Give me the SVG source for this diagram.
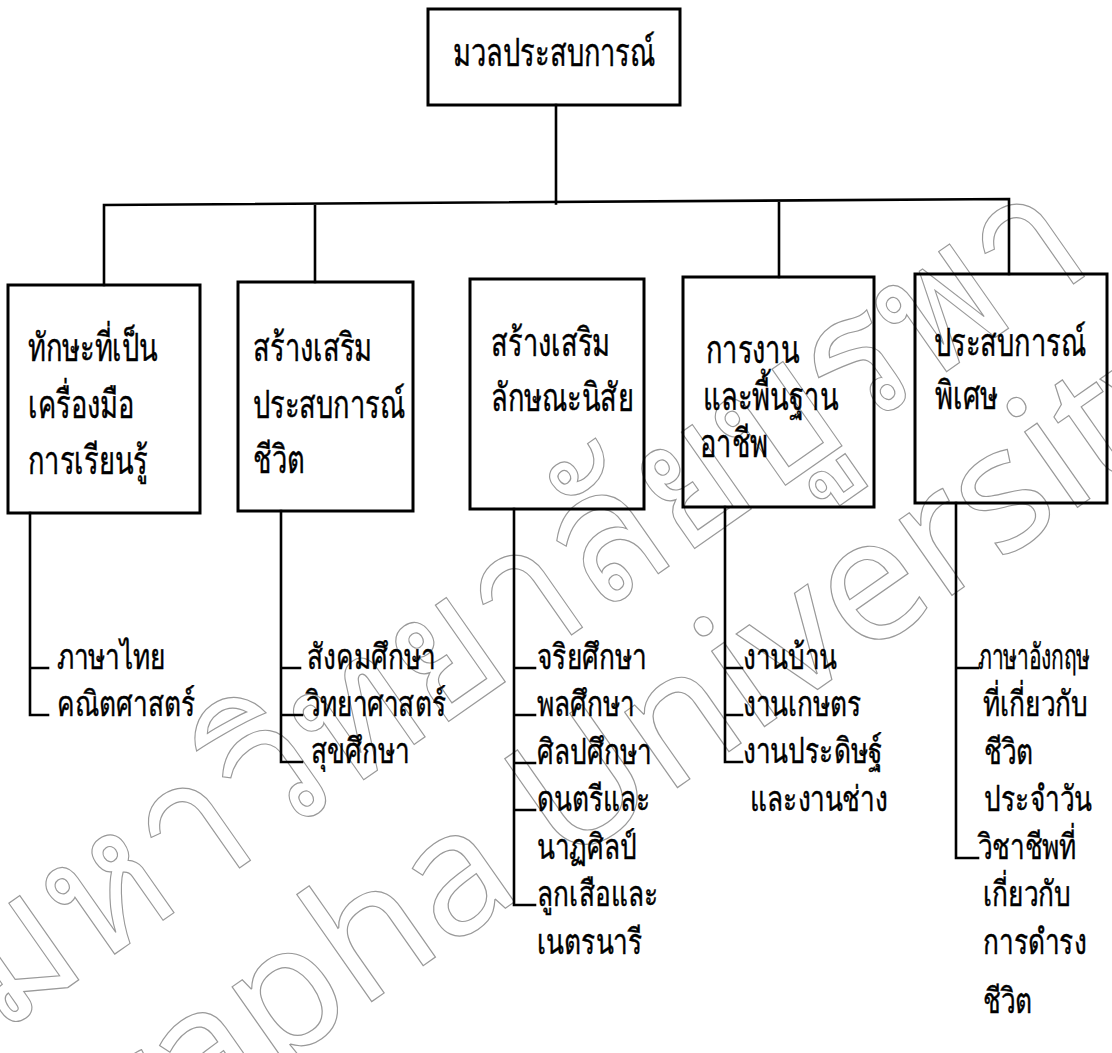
<svg xmlns="http://www.w3.org/2000/svg" width="1112" height="1053" viewBox="0 0 1112 1053">
<style>
.box{fill:none;stroke:#000;stroke-width:3}
.ln{fill:none;stroke:#000;stroke-width:2.6;stroke-linecap:square}
.t{font-family:"Noto Sans",sans-serif;font-size:39px;fill:#000;stroke:#000;stroke-width:0.4}
.s{font-family:"Noto Sans",sans-serif;font-size:35px;fill:#000;stroke:#000;stroke-width:0.4}
.wm{font-family:"Noto Sans",sans-serif;fill:none;stroke:#999;stroke-width:1.2}
</style>
<rect width="1112" height="1053" fill="#fff"/>
<g id="watermark">
<text class="wm" font-size="185" transform="translate(0,1035) rotate(-35)" textLength="1340" lengthAdjust="spacingAndGlyphs">มหาวิทยาลัยบูรพา</text>
<text class="wm" font-size="172" transform="translate(-40,1290) rotate(-35)">Burapha University</text>
</g>
<g id="connectors">
<path class="ln" d="M556 105V203.5M104 285V205L1009 199V274M315 204V282M779 202.5V277"/>
<path class="ln" d="M30 513V715H48M30 668H48"/>
<path class="ln" d="M281 511V762H302M281 668H300M281 715H302"/>
<path class="ln" d="M514 509V905H535M514 668H535M514 715H535M514 763H535M514 810H535"/>
<path class="ln" d="M725 507V762H742M725 668H742M725 715H742"/>
<path class="ln" d="M956 503V858H978M956 668H978"/>
</g>
<g id="root">
<rect class="box" x="428" y="9" width="252" height="96"/>
<text class="t" transform="translate(453,66) scale(0.7,1)">มวลประสบการณ์</text>
</g>
<g id="n1">
<rect class="box" x="8" y="285" width="192" height="228"/>
<text class="t" transform="translate(28,361) scale(0.7,1)">ทักษะที่เป็น</text>
<text class="t" transform="translate(28,418) scale(0.7,1)">เครื่องมือ</text>
<text class="t" transform="translate(28,474) scale(0.7,1)">การเรียนรู้</text>
</g>
<g id="n2">
<rect class="box" x="238" y="282" width="175" height="229"/>
<text class="t" transform="translate(253,361) scale(0.7,1)">สร้างเสริม</text>
<text class="t" transform="translate(253,418) scale(0.7,1)">ประสบการณ์</text>
<text class="t" transform="translate(253,473) scale(0.7,1)">ชีวิต</text>
</g>
<g id="n3">
<rect class="box" x="470" y="279" width="174" height="230"/>
<text class="t" transform="translate(491,356) scale(0.7,1)">สร้างเสริม</text>
<text class="t" transform="translate(491,411) scale(0.7,1)">ลักษณะนิสัย</text>
</g>
<g id="n4">
<rect class="box" x="683" y="277" width="191" height="230"/>
<text class="t" transform="translate(706,363) scale(0.7,1)">การงาน</text>
<text class="t" transform="translate(703,410) scale(0.7,1)">และพื้นฐาน</text>
<text class="t" transform="translate(700,457) scale(0.7,1)">อาชีพ</text>
</g>
<g id="n5">
<rect class="box" x="915" y="274" width="192" height="229"/>
<text class="t" transform="translate(934,356) scale(0.7,1)">ประสบการณ์</text>
<text class="t" transform="translate(935,409) scale(0.7,1)">พิเศษ</text>
</g>
<g id="list1">
<text class="s" transform="translate(57,669) scale(0.75,1)">ภาษาไทย</text>
<text class="s" transform="translate(57,716) scale(0.75,1)">คณิตศาสตร์</text>
</g>
<g id="list2">
<text class="s" transform="translate(307,669) scale(0.75,1)">สังคมศึกษา</text>
<text class="s" transform="translate(306,716) scale(0.75,1)">วิทยาศาสตร์</text>
<text class="s" transform="translate(311,763) scale(0.75,1)">สุขศึกษา</text>
</g>
<g id="list3">
<text class="s" transform="translate(537,669) scale(0.75,1)">จริยศึกษา</text>
<text class="s" transform="translate(537,716) scale(0.75,1)">พลศึกษา</text>
<text class="s" transform="translate(537,764) scale(0.75,1)">ศิลปศึกษา</text>
<text class="s" transform="translate(537,811) scale(0.75,1)">ดนตรีและ</text>
<text class="s" transform="translate(537,859) scale(0.75,1)">นาฏศิลป์</text>
<text class="s" transform="translate(537,906) scale(0.75,1)">ลูกเสือและ</text>
<text class="s" transform="translate(537,954) scale(0.75,1)">เนตรนารี</text>
</g>
<g id="list4">
<text class="s" transform="translate(743,669) scale(0.75,1)">งานบ้าน</text>
<text class="s" transform="translate(743,716) scale(0.75,1)">งานเกษตร</text>
<text class="s" transform="translate(743,763) scale(0.75,1)">งานประดิษฐ์</text>
<text class="s" transform="translate(750,811) scale(0.75,1)">และงานช่าง</text>
</g>
<g id="list5">
<text class="s" transform="translate(978,669) scale(0.6,1)">ภาษาอังกฤษ</text>
<text class="s" transform="translate(983,716) scale(0.75,1)">ที่เกี่ยวกับ</text>
<text class="s" transform="translate(984,764) scale(0.75,1)">ชีวิต</text>
<text class="s" transform="translate(984,811) scale(0.75,1)">ประจำวัน</text>
<text class="s" transform="translate(978,859) scale(0.75,1)">วิชาชีพที่</text>
<text class="s" transform="translate(983,906) scale(0.75,1)">เกี่ยวกับ</text>
<text class="s" transform="translate(983,954) scale(0.75,1)">การดำรง</text>
<text class="s" transform="translate(983,1013) scale(0.75,1)">ชีวิต</text>
</g>
</svg>
